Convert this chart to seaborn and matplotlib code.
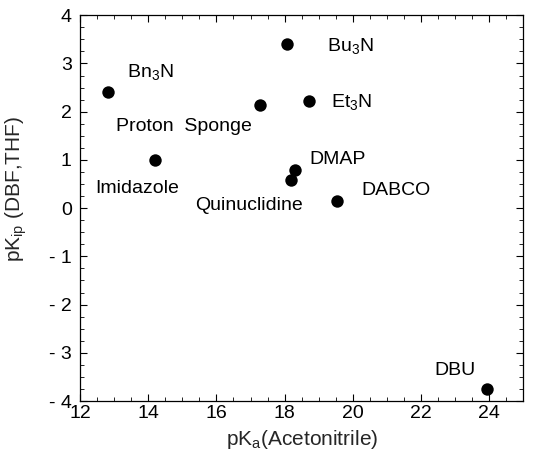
import matplotlib
matplotlib.use("Agg")
import pandas as pd
import seaborn as sns
import matplotlib.pyplot as plt
from matplotlib.ticker import MultipleLocator, FuncFormatter

# data
names = ["Bn3N", "Imidazole", "Proton Sponge", "Bu3N", "Et3N",
         "DMAP", "Quinuclidine", "DABCO", "DBU"]
pka_acn = [12.82, 14.19, 17.29, 18.08, 18.71, 18.30, 18.18, 19.53, 23.94]
pkip = [2.40, 1.00, 2.14, 3.40, 2.22, 0.80, 0.59, 0.15, -3.75]

# label text and where it sits
label_text = [r"Bn$_3$N", "Imidazole", "Proton  Sponge", r"Bu$_3$N", r"Et$_3$N",
              "DMAP", "Quinuclidine", "DABCO", "DBU"]
label_x = [13.38, 12.44, 13.06, 19.24, 19.35, 18.74, 15.38, 20.24, 22.38]
label_y = [2.82, 0.41, 1.70, 3.36, 2.20, 1.00, 0.06, 0.37, -3.37]

df = pd.DataFrame({"name": names, "pKa": pka_acn, "pKip": pkip})

sns.set_style("white")
plt.rcParams["font.family"] = ["Liberation Sans", "DejaVu Sans"]
plt.rcParams["mathtext.fontset"] = "custom"
plt.rcParams["mathtext.rm"] = "Liberation Sans"
plt.rcParams["mathtext.it"] = "Liberation Sans"

fig = plt.figure(figsize=(5.45, 4.61), dpi=100)
ax = fig.add_axes([0.147, 0.130, 0.813, 0.837])

sns.scatterplot(x="pKa", y="pKip", data=df, ax=ax, color="black",
                s=80, edgecolor="black", linewidth=0, legend=False, zorder=3)

for t, x, y in zip(label_text, label_x, label_y):
    ax.text(x, y, t, fontsize=14, va="center", ha="left", color="black")

ax.set_xlim(12, 25)
ax.set_ylim(-4, 4)
ax.xaxis.set_major_locator(MultipleLocator(2))
ax.xaxis.set_minor_locator(MultipleLocator(0.5))
ax.yaxis.set_major_locator(MultipleLocator(1))
ax.yaxis.set_minor_locator(MultipleLocator(0.25))
ax.yaxis.set_major_formatter(FuncFormatter(
    lambda v, p: ("- %d" % abs(v)) if v < 0 else "%d" % v))
ax.xaxis.set_major_formatter(FuncFormatter(lambda v, p: "%d" % v))

ax.tick_params(which="both", direction="in", top=True, right=True,
               bottom=True, left=True, colors="black", labelsize=14)
ax.tick_params(which="major", length=5, width=0.8)
ax.tick_params(which="minor", length=3, width=0.6)
ax.tick_params(axis="x", pad=3)
ax.tick_params(axis="y", pad=6)

for sp in ax.spines.values():
    sp.set_color("black")
    sp.set_linewidth(0.9)

ax.set_xlabel(r"pK$_{\mathrm{a}}$(Acetonitrile)", fontsize=15, labelpad=4)
ax.set_ylabel(r"pK$_{\mathrm{ip}}$ (DBF,THF)", fontsize=15, labelpad=8)
ax.yaxis.set_label_coords(-0.115, 0.55)

fig.savefig("out.png", dpi=100)
